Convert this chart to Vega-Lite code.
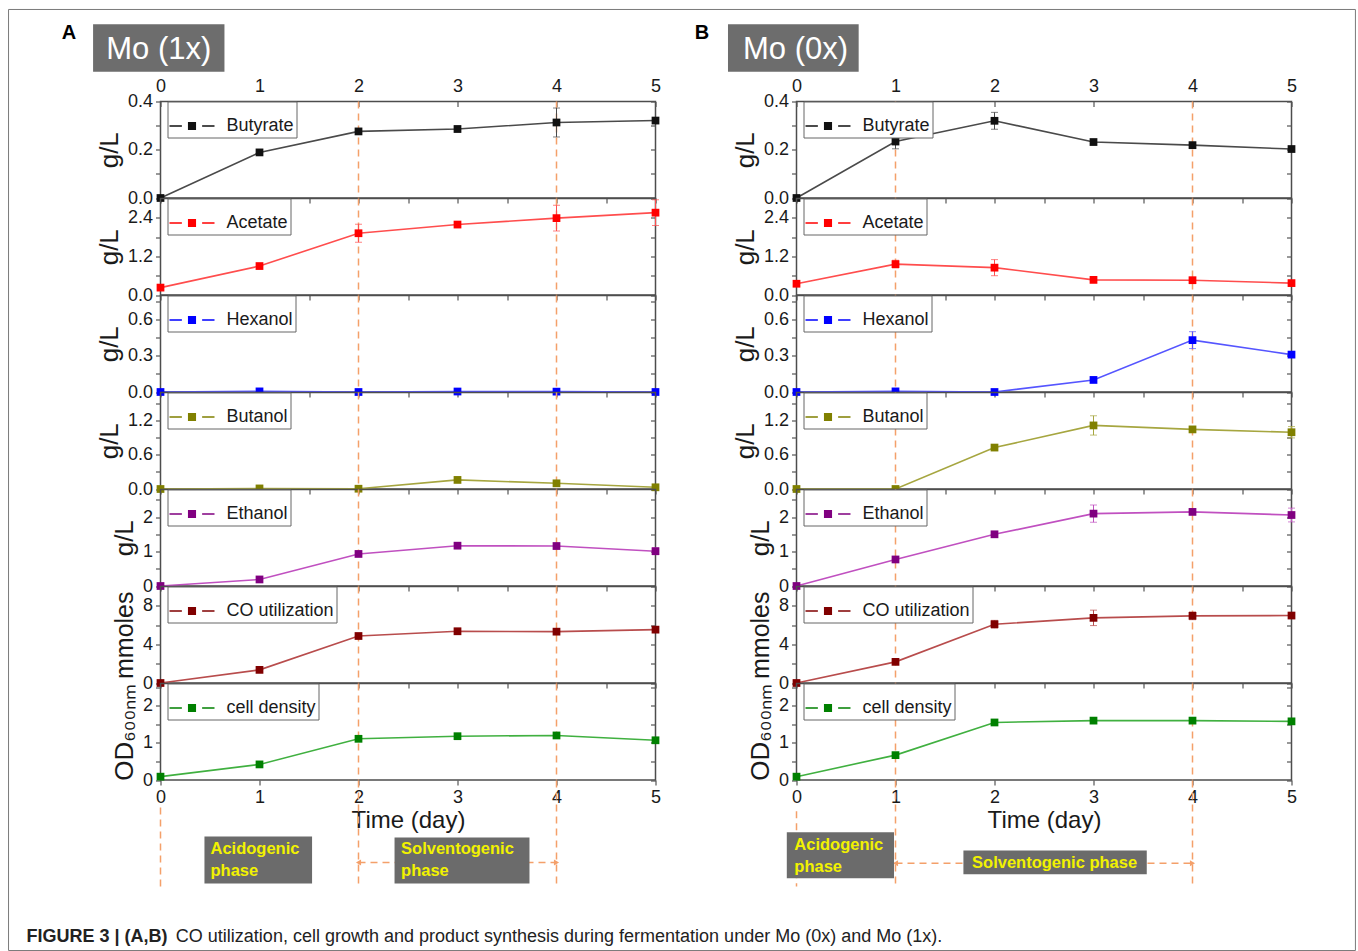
{
"$schema": "https://vega.github.io/schema/vega-lite/v6.json",
"background": "white",
"padding": {"left": 7.5, "top": 7.5, "right": 0, "bottom": 0},
"autosize": {"type": "pad"},
"columns": 2,
"spacing": {"row": 0, "column": 141},
"bounds": "flush",
"align": "each",
"resolve": {"scale": {"color": "independent"}, "legend": {"color": "independent"}},
"datasets": {
"obs": [
{"panel":"A","series":"Butyrate","day":0,"value":0,"err":0},
{"panel":"A","series":"Butyrate","day":1,"value":0.189,"err":0.008},
{"panel":"A","series":"Butyrate","day":2,"value":0.276,"err":0.012},
{"panel":"A","series":"Butyrate","day":3,"value":0.286,"err":0.012},
{"panel":"A","series":"Butyrate","day":4,"value":0.313,"err":0.06},
{"panel":"A","series":"Butyrate","day":5,"value":0.321,"err":0.008},
{"panel":"A","series":"Acetate","day":0,"value":0.23,"err":0.02},
{"panel":"A","series":"Acetate","day":1,"value":0.9,"err":0.05},
{"panel":"A","series":"Acetate","day":2,"value":1.92,"err":0.28},
{"panel":"A","series":"Acetate","day":3,"value":2.19,"err":0.06},
{"panel":"A","series":"Acetate","day":4,"value":2.39,"err":0.4},
{"panel":"A","series":"Acetate","day":5,"value":2.56,"err":0.4},
{"panel":"A","series":"Hexanol","day":0,"value":0,"err":0},
{"panel":"A","series":"Hexanol","day":1,"value":0.005,"err":0},
{"panel":"A","series":"Hexanol","day":2,"value":0,"err":0},
{"panel":"A","series":"Hexanol","day":3,"value":0.004,"err":0},
{"panel":"A","series":"Hexanol","day":4,"value":0.003,"err":0},
{"panel":"A","series":"Hexanol","day":5,"value":0,"err":0},
{"panel":"A","series":"Butanol","day":0,"value":0,"err":0},
{"panel":"A","series":"Butanol","day":1,"value":0.01,"err":0},
{"panel":"A","series":"Butanol","day":2,"value":0.005,"err":0.01},
{"panel":"A","series":"Butanol","day":3,"value":0.16,"err":0.03},
{"panel":"A","series":"Butanol","day":4,"value":0.1,"err":0.04},
{"panel":"A","series":"Butanol","day":5,"value":0.03,"err":0.02},
{"panel":"A","series":"Ethanol","day":0,"value":0,"err":0},
{"panel":"A","series":"Ethanol","day":1,"value":0.19,"err":0.05},
{"panel":"A","series":"Ethanol","day":2,"value":0.93,"err":0.06},
{"panel":"A","series":"Ethanol","day":3,"value":1.17,"err":0.08},
{"panel":"A","series":"Ethanol","day":4,"value":1.16,"err":0.08},
{"panel":"A","series":"Ethanol","day":5,"value":1.01,"err":0.1},
{"panel":"A","series":"CO utilization","day":0,"value":0,"err":0},
{"panel":"A","series":"CO utilization","day":1,"value":1.36,"err":0.15},
{"panel":"A","series":"CO utilization","day":2,"value":4.87,"err":0.2},
{"panel":"A","series":"CO utilization","day":3,"value":5.36,"err":0.3},
{"panel":"A","series":"CO utilization","day":4,"value":5.32,"err":0.25},
{"panel":"A","series":"CO utilization","day":5,"value":5.53,"err":0.3},
{"panel":"A","series":"cell density","day":0,"value":0.09,"err":0.03},
{"panel":"A","series":"cell density","day":1,"value":0.42,"err":0.04},
{"panel":"A","series":"cell density","day":2,"value":1.11,"err":0.06},
{"panel":"A","series":"cell density","day":3,"value":1.18,"err":0.04},
{"panel":"A","series":"cell density","day":4,"value":1.2,"err":0.04},
{"panel":"A","series":"cell density","day":5,"value":1.07,"err":0.06},
{"panel":"B","series":"Butyrate","day":0,"value":0,"err":0},
{"panel":"B","series":"Butyrate","day":1,"value":0.234,"err":0.03},
{"panel":"B","series":"Butyrate","day":2,"value":0.32,"err":0.035},
{"panel":"B","series":"Butyrate","day":3,"value":0.232,"err":0.008},
{"panel":"B","series":"Butyrate","day":4,"value":0.219,"err":0.012},
{"panel":"B","series":"Butyrate","day":5,"value":0.203,"err":0.008},
{"panel":"B","series":"Acetate","day":0,"value":0.35,"err":0.03},
{"panel":"B","series":"Acetate","day":1,"value":0.96,"err":0.12},
{"panel":"B","series":"Acetate","day":2,"value":0.85,"err":0.25},
{"panel":"B","series":"Acetate","day":3,"value":0.47,"err":0.05},
{"panel":"B","series":"Acetate","day":4,"value":0.46,"err":0.04},
{"panel":"B","series":"Acetate","day":5,"value":0.37,"err":0.03},
{"panel":"B","series":"Hexanol","day":0,"value":0,"err":0},
{"panel":"B","series":"Hexanol","day":1,"value":0.005,"err":0},
{"panel":"B","series":"Hexanol","day":2,"value":0,"err":0},
{"panel":"B","series":"Hexanol","day":3,"value":0.1,"err":0.02},
{"panel":"B","series":"Hexanol","day":4,"value":0.43,"err":0.07},
{"panel":"B","series":"Hexanol","day":5,"value":0.31,"err":0.02},
{"panel":"B","series":"Butanol","day":0,"value":0,"err":0},
{"panel":"B","series":"Butanol","day":1,"value":0,"err":0},
{"panel":"B","series":"Butanol","day":2,"value":0.73,"err":0.04},
{"panel":"B","series":"Butanol","day":3,"value":1.12,"err":0.17},
{"panel":"B","series":"Butanol","day":4,"value":1.05,"err":0.04},
{"panel":"B","series":"Butanol","day":5,"value":1.0,"err":0.1},
{"panel":"B","series":"Ethanol","day":0,"value":0,"err":0},
{"panel":"B","series":"Ethanol","day":1,"value":0.77,"err":0.04},
{"panel":"B","series":"Ethanol","day":2,"value":1.5,"err":0.07},
{"panel":"B","series":"Ethanol","day":3,"value":2.1,"err":0.25},
{"panel":"B","series":"Ethanol","day":4,"value":2.15,"err":0.05},
{"panel":"B","series":"Ethanol","day":5,"value":2.06,"err":0.2},
{"panel":"B","series":"CO utilization","day":0,"value":0,"err":0},
{"panel":"B","series":"CO utilization","day":1,"value":2.19,"err":0.2},
{"panel":"B","series":"CO utilization","day":2,"value":6.09,"err":0.4},
{"panel":"B","series":"CO utilization","day":3,"value":6.75,"err":0.8},
{"panel":"B","series":"CO utilization","day":4,"value":6.96,"err":0.4},
{"panel":"B","series":"CO utilization","day":5,"value":6.99,"err":0.3},
{"panel":"B","series":"cell density","day":0,"value":0.09,"err":0.03},
{"panel":"B","series":"cell density","day":1,"value":0.67,"err":0.04},
{"panel":"B","series":"cell density","day":2,"value":1.55,"err":0.07},
{"panel":"B","series":"cell density","day":3,"value":1.6,"err":0.05},
{"panel":"B","series":"cell density","day":4,"value":1.6,"err":0.05},
{"panel":"B","series":"cell density","day":5,"value":1.58,"err":0.04}
],
"lines": [
{"panel":"A","day":2,"span":"all"},
{"panel":"A","day":4,"span":"all"},
{"panel":"A","day":0,"span":"below"},
{"panel":"B","day":1,"span":"all"},
{"panel":"B","day":4,"span":"all"},
{"panel":"B","day":0,"span":"below"}
],
"phases": [
{"panel":"A","phase":"Acidogenic","label":"Acidogenic phase","start":0,"end":2},
{"panel":"A","phase":"Solventogenic","label":"Solventogenic phase","start":2,"end":4},
{"panel":"B","phase":"Acidogenic","label":"Acidogenic phase","start":0,"end":1},
{"panel":"B","phase":"Solventogenic","label":"Solventogenic phase","start":1,"end":4}
],
"panels": [
{"panel":"A","letter":"A","condition":"Mo (1x)"},
{"panel":"B","letter":"B","condition":"Mo (0x)"}
],
"caption": [
{"bold":"FIGURE 3 | (A,B)","rest":"CO utilization, cell growth and product synthesis during fermentation under Mo (0x) and Mo (1x)."}
]
},
"concat": [
{"width":495,"height":93.5,"view":{"stroke":null},"data":{"name":"panels"},"transform":[{"filter":"datum.panel=='A'"}],"layer":[
{"mark":{"type":"rect","color":"#6d6d6d"},"encoding":{"x":{"datum":-0.681,"type":"quantitative","scale":{"domain":[0,5],"nice":false},"axis":null},"x2":{"datum":0.646},"y":{"datum":0.179,"type":"quantitative","scale":{"domain":[0,1],"nice":false,"reverse":true},"axis":null},"y2":{"datum":0.688}}},
{"mark":{"type":"text","color":"white","fontSize":31,"align":"center","baseline":"middle"},"encoding":{"x":{"datum":-0.017,"type":"quantitative","axis":null},"y":{"datum":0.45,"type":"quantitative","axis":null},"text":{"field":"condition"}}},
{"mark":{"type":"text","color":"black","fontSize":20,"fontWeight":"bold","align":"center","baseline":"middle"},"encoding":{"x":{"datum":-0.924,"type":"quantitative","axis":null},"y":{"datum":0.273,"type":"quantitative","axis":null},"text":{"field":"letter"}}}
]},
{"width":495,"height":93.5,"view":{"stroke":null},"data":{"name":"panels"},"transform":[{"filter":"datum.panel=='B'"}],"layer":[
{"mark":{"type":"rect","color":"#6d6d6d"},"encoding":{"x":{"datum":-0.692,"type":"quantitative","scale":{"domain":[0,5],"nice":false},"axis":null},"x2":{"datum":0.628},"y":{"datum":0.179,"type":"quantitative","scale":{"domain":[0,1],"nice":false,"reverse":true},"axis":null},"y2":{"datum":0.688}}},
{"mark":{"type":"text","color":"white","fontSize":31,"align":"center","baseline":"middle"},"encoding":{"x":{"datum":-0.01,"type":"quantitative","axis":null},"y":{"datum":0.45,"type":"quantitative","axis":null},"text":{"field":"condition"}}},
{"mark":{"type":"text","color":"black","fontSize":20,"fontWeight":"bold","align":"center","baseline":"middle"},"encoding":{"x":{"datum":-0.956,"type":"quantitative","axis":null},"y":{"datum":0.273,"type":"quantitative","axis":null},"text":{"field":"letter"}}}
]},

{"width":495,"height":96.5,"data":{"name":"obs"},"transform":[{"filter":"datum.panel=='A' && datum.series=='Butyrate'"}],"layer":[
{"data":{"name":"lines"},"transform":[{"filter":"datum.panel=='A' && datum.span=='all'"}],"mark":{"type":"rule","color":"#f4a06a","strokeDash":[7,5],"strokeWidth":1.5},"encoding":{"x":{"field":"day","type":"quantitative","scale":{"domain":[0,5],"nice":false},"axis":null}}},
{"mark":{"type":"line","color":"#4a4a4a","strokeWidth":1.6},"encoding":{"x":{"field":"day","type":"quantitative","axis":{"orient":"top","values":[0,0.5,1,1.5,2,2.5,3,3.5,4,4.5,5],"format":"d","labelFlush":false,"labelExpr":"datum.value % 1 == 0 ? datum.label : ''","offset":-5,"labelPadding":6,"title":null}},"y":{"field":"value","type":"quantitative","scale":{"domain":[0,0.4],"nice":false},"axis":{"orient":"left","values":[0,0.1,0.2,0.3,0.4],"format":".1f","labelExpr":"round(datum.value*10)%2==0 ? datum.label : ''","title":"g/L"}}}},
{"mark":{"type":"errorbar","color":"#4a4a4a","ticks":{"size":7}},"encoding":{"x":{"field":"day","type":"quantitative","axis":null},"y":{"field":"value","type":"quantitative","axis":null},"yError":{"field":"err"}}},
{"mark":{"type":"square","size":60,"opacity":1},"encoding":{"x":{"field":"day","type":"quantitative","axis":{"orient":"bottom","values":[0,0.5,1,1.5,2,2.5,3,3.5,4,4.5,5],"labels":false,"title":null}},"y":{"field":"value","type":"quantitative","axis":{"orient":"right","values":[0,0.1,0.2,0.3,0.4],"labels":false,"offset":-5,"title":null}},"color":{"field":"series","type":"nominal","scale":{"range":["#111111"]},"legend":{"orient":"none","legendX":7,"legendY":0,"title":null}}}}
],"resolve":{"axis":{"x":"independent","y":"independent"}}},

{"width":495,"height":96.5,"data":{"name":"obs"},"transform":[{"filter":"datum.panel=='B' && datum.series=='Butyrate'"}],"layer":[
{"data":{"name":"lines"},"transform":[{"filter":"datum.panel=='B' && datum.span=='all'"}],"mark":{"type":"rule","color":"#f4a06a","strokeDash":[7,5],"strokeWidth":1.5},"encoding":{"x":{"field":"day","type":"quantitative","scale":{"domain":[0,5],"nice":false},"axis":null}}},
{"mark":{"type":"line","color":"#4a4a4a","strokeWidth":1.6},"encoding":{"x":{"field":"day","type":"quantitative","axis":{"orient":"top","values":[0,0.5,1,1.5,2,2.5,3,3.5,4,4.5,5],"format":"d","labelFlush":false,"labelExpr":"datum.value % 1 == 0 ? datum.label : ''","offset":-5,"labelPadding":6,"title":null}},"y":{"field":"value","type":"quantitative","scale":{"domain":[0,0.4],"nice":false},"axis":{"orient":"left","values":[0,0.1,0.2,0.3,0.4],"format":".1f","labelExpr":"round(datum.value*10)%2==0 ? datum.label : ''","title":"g/L"}}}},
{"mark":{"type":"errorbar","color":"#4a4a4a","ticks":{"size":7}},"encoding":{"x":{"field":"day","type":"quantitative","axis":null},"y":{"field":"value","type":"quantitative","axis":null},"yError":{"field":"err"}}},
{"mark":{"type":"square","size":60,"opacity":1},"encoding":{"x":{"field":"day","type":"quantitative","axis":{"orient":"bottom","values":[0,0.5,1,1.5,2,2.5,3,3.5,4,4.5,5],"labels":false,"title":null}},"y":{"field":"value","type":"quantitative","axis":{"orient":"right","values":[0,0.1,0.2,0.3,0.4],"labels":false,"offset":-5,"title":null}},"color":{"field":"series","type":"nominal","scale":{"range":["#111111"]},"legend":{"orient":"none","legendX":7,"legendY":0,"title":null}}}}
],"resolve":{"axis":{"x":"independent","y":"independent"}}},

{"width":495,"height":96.5,"data":{"name":"obs"},"transform":[{"filter":"datum.panel=='A' && datum.series=='Acetate'"}],"layer":[
{"data":{"name":"lines"},"transform":[{"filter":"datum.panel=='A' && datum.span=='all'"}],"mark":{"type":"rule","color":"#f4a06a","strokeDash":[7,5],"strokeWidth":1.5},"encoding":{"x":{"field":"day","type":"quantitative","scale":{"domain":[0,5],"nice":false},"axis":null}}},
{"mark":{"type":"line","color":"#ff4d4d","strokeWidth":1.6},"encoding":{"x":{"field":"day","type":"quantitative","axis":null},"y":{"field":"value","type":"quantitative","scale":{"domain":[0,3],"nice":false},"axis":{"orient":"left","values":[0,0.6,1.2,1.8,2.4],"format":".1f","labelExpr":"round(datum.value*10)%12==0 ? datum.label : ''","title":"g/L"}}}},
{"mark":{"type":"errorbar","color":"#ff4d4d","ticks":{"size":7}},"encoding":{"x":{"field":"day","type":"quantitative","axis":null},"y":{"field":"value","type":"quantitative","axis":null},"yError":{"field":"err"}}},
{"mark":{"type":"square","size":60,"opacity":1},"encoding":{"x":{"field":"day","type":"quantitative","axis":{"orient":"bottom","values":[0,0.5,1,1.5,2,2.5,3,3.5,4,4.5,5],"labels":false,"title":null}},"y":{"field":"value","type":"quantitative","axis":{"orient":"right","values":[0,0.6,1.2,1.8,2.4],"labels":false,"offset":-5,"title":null}},"color":{"field":"series","type":"nominal","scale":{"range":["#ff0000"]},"legend":{"orient":"none","legendX":7,"legendY":0,"title":null}}}}
],"resolve":{"axis":{"x":"independent","y":"independent"}}},

{"width":495,"height":96.5,"data":{"name":"obs"},"transform":[{"filter":"datum.panel=='B' && datum.series=='Acetate'"}],"layer":[
{"data":{"name":"lines"},"transform":[{"filter":"datum.panel=='B' && datum.span=='all'"}],"mark":{"type":"rule","color":"#f4a06a","strokeDash":[7,5],"strokeWidth":1.5},"encoding":{"x":{"field":"day","type":"quantitative","scale":{"domain":[0,5],"nice":false},"axis":null}}},
{"mark":{"type":"line","color":"#ff4d4d","strokeWidth":1.6},"encoding":{"x":{"field":"day","type":"quantitative","axis":null},"y":{"field":"value","type":"quantitative","scale":{"domain":[0,3],"nice":false},"axis":{"orient":"left","values":[0,0.6,1.2,1.8,2.4],"format":".1f","labelExpr":"round(datum.value*10)%12==0 ? datum.label : ''","title":"g/L"}}}},
{"mark":{"type":"errorbar","color":"#ff4d4d","ticks":{"size":7}},"encoding":{"x":{"field":"day","type":"quantitative","axis":null},"y":{"field":"value","type":"quantitative","axis":null},"yError":{"field":"err"}}},
{"mark":{"type":"square","size":60,"opacity":1},"encoding":{"x":{"field":"day","type":"quantitative","axis":{"orient":"bottom","values":[0,0.5,1,1.5,2,2.5,3,3.5,4,4.5,5],"labels":false,"title":null}},"y":{"field":"value","type":"quantitative","axis":{"orient":"right","values":[0,0.6,1.2,1.8,2.4],"labels":false,"offset":-5,"title":null}},"color":{"field":"series","type":"nominal","scale":{"range":["#ff0000"]},"legend":{"orient":"none","legendX":7,"legendY":0,"title":null}}}}
],"resolve":{"axis":{"x":"independent","y":"independent"}}},

{"width":495,"height":96.5,"data":{"name":"obs"},"transform":[{"filter":"datum.panel=='A' && datum.series=='Hexanol'"}],"layer":[
{"data":{"name":"lines"},"transform":[{"filter":"datum.panel=='A' && datum.span=='all'"}],"mark":{"type":"rule","color":"#f4a06a","strokeDash":[7,5],"strokeWidth":1.5},"encoding":{"x":{"field":"day","type":"quantitative","scale":{"domain":[0,5],"nice":false},"axis":null}}},
{"mark":{"type":"line","color":"#5555ff","strokeWidth":1.6},"encoding":{"x":{"field":"day","type":"quantitative","axis":null},"y":{"field":"value","type":"quantitative","scale":{"domain":[0,0.8],"nice":false},"axis":{"orient":"left","values":[0,0.15,0.3,0.45,0.6,0.75],"format":".1f","labelExpr":"round(datum.value*100)%30==0 ? datum.label : ''","title":"g/L"}}}},
{"mark":{"type":"errorbar","color":"#5555ff","ticks":{"size":7}},"encoding":{"x":{"field":"day","type":"quantitative","axis":null},"y":{"field":"value","type":"quantitative","axis":null},"yError":{"field":"err"}}},
{"mark":{"type":"square","size":60,"opacity":1},"encoding":{"x":{"field":"day","type":"quantitative","axis":{"orient":"bottom","values":[0,0.5,1,1.5,2,2.5,3,3.5,4,4.5,5],"labels":false,"title":null}},"y":{"field":"value","type":"quantitative","axis":{"orient":"right","values":[0,0.15,0.3,0.45,0.6,0.75],"labels":false,"offset":-5,"title":null}},"color":{"field":"series","type":"nominal","scale":{"range":["#0000ff"]},"legend":{"orient":"none","legendX":7,"legendY":0,"title":null}}}}
],"resolve":{"axis":{"x":"independent","y":"independent"}}},

{"width":495,"height":96.5,"data":{"name":"obs"},"transform":[{"filter":"datum.panel=='B' && datum.series=='Hexanol'"}],"layer":[
{"data":{"name":"lines"},"transform":[{"filter":"datum.panel=='B' && datum.span=='all'"}],"mark":{"type":"rule","color":"#f4a06a","strokeDash":[7,5],"strokeWidth":1.5},"encoding":{"x":{"field":"day","type":"quantitative","scale":{"domain":[0,5],"nice":false},"axis":null}}},
{"mark":{"type":"line","color":"#5555ff","strokeWidth":1.6},"encoding":{"x":{"field":"day","type":"quantitative","axis":null},"y":{"field":"value","type":"quantitative","scale":{"domain":[0,0.8],"nice":false},"axis":{"orient":"left","values":[0,0.15,0.3,0.45,0.6,0.75],"format":".1f","labelExpr":"round(datum.value*100)%30==0 ? datum.label : ''","title":"g/L"}}}},
{"mark":{"type":"errorbar","color":"#5555ff","ticks":{"size":7}},"encoding":{"x":{"field":"day","type":"quantitative","axis":null},"y":{"field":"value","type":"quantitative","axis":null},"yError":{"field":"err"}}},
{"mark":{"type":"square","size":60,"opacity":1},"encoding":{"x":{"field":"day","type":"quantitative","axis":{"orient":"bottom","values":[0,0.5,1,1.5,2,2.5,3,3.5,4,4.5,5],"labels":false,"title":null}},"y":{"field":"value","type":"quantitative","axis":{"orient":"right","values":[0,0.15,0.3,0.45,0.6,0.75],"labels":false,"offset":-5,"title":null}},"color":{"field":"series","type":"nominal","scale":{"range":["#0000ff"]},"legend":{"orient":"none","legendX":7,"legendY":0,"title":null}}}}
],"resolve":{"axis":{"x":"independent","y":"independent"}}},

{"width":495,"height":96.5,"data":{"name":"obs"},"transform":[{"filter":"datum.panel=='A' && datum.series=='Butanol'"}],"layer":[
{"data":{"name":"lines"},"transform":[{"filter":"datum.panel=='A' && datum.span=='all'"}],"mark":{"type":"rule","color":"#f4a06a","strokeDash":[7,5],"strokeWidth":1.5},"encoding":{"x":{"field":"day","type":"quantitative","scale":{"domain":[0,5],"nice":false},"axis":null}}},
{"mark":{"type":"line","color":"#a6a640","strokeWidth":1.6},"encoding":{"x":{"field":"day","type":"quantitative","axis":null},"y":{"field":"value","type":"quantitative","scale":{"domain":[0,1.7],"nice":false},"axis":{"orient":"left","values":[0,0.3,0.6,0.9,1.2,1.5],"format":".1f","labelExpr":"round(datum.value*10)%6==0 ? datum.label : ''","title":"g/L"}}}},
{"mark":{"type":"errorbar","color":"#a6a640","ticks":{"size":7}},"encoding":{"x":{"field":"day","type":"quantitative","axis":null},"y":{"field":"value","type":"quantitative","axis":null},"yError":{"field":"err"}}},
{"mark":{"type":"square","size":60,"opacity":1},"encoding":{"x":{"field":"day","type":"quantitative","axis":{"orient":"bottom","values":[0,0.5,1,1.5,2,2.5,3,3.5,4,4.5,5],"labels":false,"title":null}},"y":{"field":"value","type":"quantitative","axis":{"orient":"right","values":[0,0.3,0.6,0.9,1.2,1.5],"labels":false,"offset":-5,"title":null}},"color":{"field":"series","type":"nominal","scale":{"range":["#808000"]},"legend":{"orient":"none","legendX":7,"legendY":0,"title":null}}}}
],"resolve":{"axis":{"x":"independent","y":"independent"}}},

{"width":495,"height":96.5,"data":{"name":"obs"},"transform":[{"filter":"datum.panel=='B' && datum.series=='Butanol'"}],"layer":[
{"data":{"name":"lines"},"transform":[{"filter":"datum.panel=='B' && datum.span=='all'"}],"mark":{"type":"rule","color":"#f4a06a","strokeDash":[7,5],"strokeWidth":1.5},"encoding":{"x":{"field":"day","type":"quantitative","scale":{"domain":[0,5],"nice":false},"axis":null}}},
{"mark":{"type":"line","color":"#a6a640","strokeWidth":1.6},"encoding":{"x":{"field":"day","type":"quantitative","axis":null},"y":{"field":"value","type":"quantitative","scale":{"domain":[0,1.7],"nice":false},"axis":{"orient":"left","values":[0,0.3,0.6,0.9,1.2,1.5],"format":".1f","labelExpr":"round(datum.value*10)%6==0 ? datum.label : ''","title":"g/L"}}}},
{"mark":{"type":"errorbar","color":"#a6a640","ticks":{"size":7}},"encoding":{"x":{"field":"day","type":"quantitative","axis":null},"y":{"field":"value","type":"quantitative","axis":null},"yError":{"field":"err"}}},
{"mark":{"type":"square","size":60,"opacity":1},"encoding":{"x":{"field":"day","type":"quantitative","axis":{"orient":"bottom","values":[0,0.5,1,1.5,2,2.5,3,3.5,4,4.5,5],"labels":false,"title":null}},"y":{"field":"value","type":"quantitative","axis":{"orient":"right","values":[0,0.3,0.6,0.9,1.2,1.5],"labels":false,"offset":-5,"title":null}},"color":{"field":"series","type":"nominal","scale":{"range":["#808000"]},"legend":{"orient":"none","legendX":7,"legendY":0,"title":null}}}}
],"resolve":{"axis":{"x":"independent","y":"independent"}}},

{"width":495,"height":96.5,"data":{"name":"obs"},"transform":[{"filter":"datum.panel=='A' && datum.series=='Ethanol'"}],"layer":[
{"data":{"name":"lines"},"transform":[{"filter":"datum.panel=='A' && datum.span=='all'"}],"mark":{"type":"rule","color":"#f4a06a","strokeDash":[7,5],"strokeWidth":1.5},"encoding":{"x":{"field":"day","type":"quantitative","scale":{"domain":[0,5],"nice":false},"axis":null}}},
{"mark":{"type":"line","color":"#c050c0","strokeWidth":1.6},"encoding":{"x":{"field":"day","type":"quantitative","axis":null},"y":{"field":"value","type":"quantitative","scale":{"domain":[0,2.8],"nice":false},"axis":{"orient":"left","values":[0,0.5,1,1.5,2,2.5],"format":"~g","labelExpr":"round(datum.value*10)%10==0 ? datum.label : ''","title":"g/L"}}}},
{"mark":{"type":"errorbar","color":"#c050c0","ticks":{"size":7}},"encoding":{"x":{"field":"day","type":"quantitative","axis":null},"y":{"field":"value","type":"quantitative","axis":null},"yError":{"field":"err"}}},
{"mark":{"type":"square","size":60,"opacity":1},"encoding":{"x":{"field":"day","type":"quantitative","axis":{"orient":"bottom","values":[0,0.5,1,1.5,2,2.5,3,3.5,4,4.5,5],"labels":false,"title":null}},"y":{"field":"value","type":"quantitative","axis":{"orient":"right","values":[0,0.5,1,1.5,2,2.5],"labels":false,"offset":-5,"title":null}},"color":{"field":"series","type":"nominal","scale":{"range":["#800080"]},"legend":{"orient":"none","legendX":7,"legendY":0,"title":null}}}}
],"resolve":{"axis":{"x":"independent","y":"independent"}}},

{"width":495,"height":96.5,"data":{"name":"obs"},"transform":[{"filter":"datum.panel=='B' && datum.series=='Ethanol'"}],"layer":[
{"data":{"name":"lines"},"transform":[{"filter":"datum.panel=='B' && datum.span=='all'"}],"mark":{"type":"rule","color":"#f4a06a","strokeDash":[7,5],"strokeWidth":1.5},"encoding":{"x":{"field":"day","type":"quantitative","scale":{"domain":[0,5],"nice":false},"axis":null}}},
{"mark":{"type":"line","color":"#c050c0","strokeWidth":1.6},"encoding":{"x":{"field":"day","type":"quantitative","axis":null},"y":{"field":"value","type":"quantitative","scale":{"domain":[0,2.8],"nice":false},"axis":{"orient":"left","values":[0,0.5,1,1.5,2,2.5],"format":"~g","labelExpr":"round(datum.value*10)%10==0 ? datum.label : ''","title":"g/L"}}}},
{"mark":{"type":"errorbar","color":"#c050c0","ticks":{"size":7}},"encoding":{"x":{"field":"day","type":"quantitative","axis":null},"y":{"field":"value","type":"quantitative","axis":null},"yError":{"field":"err"}}},
{"mark":{"type":"square","size":60,"opacity":1},"encoding":{"x":{"field":"day","type":"quantitative","axis":{"orient":"bottom","values":[0,0.5,1,1.5,2,2.5,3,3.5,4,4.5,5],"labels":false,"title":null}},"y":{"field":"value","type":"quantitative","axis":{"orient":"right","values":[0,0.5,1,1.5,2,2.5],"labels":false,"offset":-5,"title":null}},"color":{"field":"series","type":"nominal","scale":{"range":["#800080"]},"legend":{"orient":"none","legendX":7,"legendY":0,"title":null}}}}
],"resolve":{"axis":{"x":"independent","y":"independent"}}},

{"width":495,"height":96.5,"data":{"name":"obs"},"transform":[{"filter":"datum.panel=='A' && datum.series=='CO utilization'"}],"layer":[
{"data":{"name":"lines"},"transform":[{"filter":"datum.panel=='A' && datum.span=='all'"}],"mark":{"type":"rule","color":"#f4a06a","strokeDash":[7,5],"strokeWidth":1.5},"encoding":{"x":{"field":"day","type":"quantitative","scale":{"domain":[0,5],"nice":false},"axis":null}}},
{"mark":{"type":"line","color":"#b84c4c","strokeWidth":1.6},"encoding":{"x":{"field":"day","type":"quantitative","axis":null},"y":{"field":"value","type":"quantitative","scale":{"domain":[0,10],"nice":false},"axis":{"orient":"left","values":[0,2,4,6,8],"format":"~g","labelExpr":"round(datum.value)%4==0 ? datum.label : ''","title":"mmoles","titleFontSize":25}}}},
{"mark":{"type":"errorbar","color":"#b84c4c","ticks":{"size":7}},"encoding":{"x":{"field":"day","type":"quantitative","axis":null},"y":{"field":"value","type":"quantitative","axis":null},"yError":{"field":"err"}}},
{"mark":{"type":"square","size":60,"opacity":1},"encoding":{"x":{"field":"day","type":"quantitative","axis":{"orient":"bottom","values":[0,0.5,1,1.5,2,2.5,3,3.5,4,4.5,5],"labels":false,"title":null}},"y":{"field":"value","type":"quantitative","axis":{"orient":"right","values":[0,2,4,6,8],"labels":false,"offset":-5,"title":null}},"color":{"field":"series","type":"nominal","scale":{"range":["#800000"]},"legend":{"orient":"none","legendX":7,"legendY":0,"title":null}}}}
],"resolve":{"axis":{"x":"independent","y":"independent"}}},

{"width":495,"height":96.5,"data":{"name":"obs"},"transform":[{"filter":"datum.panel=='B' && datum.series=='CO utilization'"}],"layer":[
{"data":{"name":"lines"},"transform":[{"filter":"datum.panel=='B' && datum.span=='all'"}],"mark":{"type":"rule","color":"#f4a06a","strokeDash":[7,5],"strokeWidth":1.5},"encoding":{"x":{"field":"day","type":"quantitative","scale":{"domain":[0,5],"nice":false},"axis":null}}},
{"mark":{"type":"line","color":"#b84c4c","strokeWidth":1.6},"encoding":{"x":{"field":"day","type":"quantitative","axis":null},"y":{"field":"value","type":"quantitative","scale":{"domain":[0,10],"nice":false},"axis":{"orient":"left","values":[0,2,4,6,8],"format":"~g","labelExpr":"round(datum.value)%4==0 ? datum.label : ''","title":"mmoles","titleFontSize":25}}}},
{"mark":{"type":"errorbar","color":"#b84c4c","ticks":{"size":7}},"encoding":{"x":{"field":"day","type":"quantitative","axis":null},"y":{"field":"value","type":"quantitative","axis":null},"yError":{"field":"err"}}},
{"mark":{"type":"square","size":60,"opacity":1},"encoding":{"x":{"field":"day","type":"quantitative","axis":{"orient":"bottom","values":[0,0.5,1,1.5,2,2.5,3,3.5,4,4.5,5],"labels":false,"title":null}},"y":{"field":"value","type":"quantitative","axis":{"orient":"right","values":[0,2,4,6,8],"labels":false,"offset":-5,"title":null}},"color":{"field":"series","type":"nominal","scale":{"range":["#800000"]},"legend":{"orient":"none","legendX":7,"legendY":0,"title":null}}}}
],"resolve":{"axis":{"x":"independent","y":"independent"}}},

{"width":495,"height":96.5,"data":{"name":"obs"},"transform":[{"filter":"datum.panel=='A' && datum.series=='cell density'"}],"layer":[
{"data":{"name":"lines"},"transform":[{"filter":"datum.panel=='A' && datum.span=='all'"}],"mark":{"type":"rule","color":"#f4a06a","strokeDash":[7,5],"strokeWidth":1.5},"encoding":{"x":{"field":"day","type":"quantitative","scale":{"domain":[0,5],"nice":false},"axis":null}}},
{"mark":{"type":"line","color":"#40b040","strokeWidth":1.6},"encoding":{"x":{"field":"day","type":"quantitative","axis":null},"y":{"field":"value","type":"quantitative","scale":{"domain":[0,2.6],"nice":false},"axis":{"orient":"left","values":[0,0.5,1,1.5,2,2.5],"format":"~g","labelExpr":"round(datum.value*10)%10==0 ? datum.label : ''","title":"OD₆₀₀ₙₘ"}}}},
{"mark":{"type":"errorbar","color":"#40b040","ticks":{"size":7}},"encoding":{"x":{"field":"day","type":"quantitative","axis":null},"y":{"field":"value","type":"quantitative","axis":null},"yError":{"field":"err"}}},
{"mark":{"type":"square","size":60,"opacity":1},"encoding":{"x":{"field":"day","type":"quantitative","axis":{"orient":"bottom","values":[0,0.5,1,1.5,2,2.5,3,3.5,4,4.5,5],"format":"d","labelFlush":false,"labelExpr":"datum.value % 1 == 0 ? datum.label : ''","title":"Time (day)","titleFontSize":24,"titlePadding":2}},"y":{"field":"value","type":"quantitative","axis":{"orient":"right","values":[0,0.5,1,1.5,2,2.5],"labels":false,"offset":-5,"title":null}},"color":{"field":"series","type":"nominal","scale":{"range":["#008000"]},"legend":{"orient":"none","legendX":7,"legendY":0,"title":null}}}}
],"resolve":{"axis":{"x":"independent","y":"independent"}}},

{"width":495,"height":96.5,"data":{"name":"obs"},"transform":[{"filter":"datum.panel=='B' && datum.series=='cell density'"}],"layer":[
{"data":{"name":"lines"},"transform":[{"filter":"datum.panel=='B' && datum.span=='all'"}],"mark":{"type":"rule","color":"#f4a06a","strokeDash":[7,5],"strokeWidth":1.5},"encoding":{"x":{"field":"day","type":"quantitative","scale":{"domain":[0,5],"nice":false},"axis":null}}},
{"mark":{"type":"line","color":"#40b040","strokeWidth":1.6},"encoding":{"x":{"field":"day","type":"quantitative","axis":null},"y":{"field":"value","type":"quantitative","scale":{"domain":[0,2.6],"nice":false},"axis":{"orient":"left","values":[0,0.5,1,1.5,2,2.5],"format":"~g","labelExpr":"round(datum.value*10)%10==0 ? datum.label : ''","title":"OD₆₀₀ₙₘ"}}}},
{"mark":{"type":"errorbar","color":"#40b040","ticks":{"size":7}},"encoding":{"x":{"field":"day","type":"quantitative","axis":null},"y":{"field":"value","type":"quantitative","axis":null},"yError":{"field":"err"}}},
{"mark":{"type":"square","size":60,"opacity":1},"encoding":{"x":{"field":"day","type":"quantitative","axis":{"orient":"bottom","values":[0,0.5,1,1.5,2,2.5,3,3.5,4,4.5,5],"format":"d","labelFlush":false,"labelExpr":"datum.value % 1 == 0 ? datum.label : ''","title":"Time (day)","titleFontSize":24,"titlePadding":2}},"y":{"field":"value","type":"quantitative","axis":{"orient":"right","values":[0,0.5,1,1.5,2,2.5],"labels":false,"offset":-5,"title":null}},"color":{"field":"series","type":"nominal","scale":{"range":["#008000"]},"legend":{"orient":"none","legendX":7,"legendY":0,"title":null}}}}
],"resolve":{"axis":{"x":"independent","y":"independent"}}},

{"width":495,"height":106,"view":{"stroke":null},"layer":[
{"data":{"name":"lines"},"transform":[{"filter":"datum.panel=='A' && datum.span=='all'"}],"mark":{"type":"rule","color":"#f4a06a","strokeDash":[7,5],"strokeWidth":1.5},"encoding":{"x":{"field":"day","type":"quantitative","scale":{"domain":[0,5],"nice":false},"axis":null}}},
{"data":{"name":"lines"},"transform":[{"filter":"datum.panel=='A' && datum.span=='below'"}],"mark":{"type":"rule","color":"#f4a06a","strokeDash":[7,5],"strokeWidth":1.5},"encoding":{"x":{"field":"day","type":"quantitative","axis":null},"y":{"datum":0.255,"type":"quantitative","scale":{"domain":[0,1],"nice":false,"reverse":true},"axis":null},"y2":{"datum":1}}},
{"data":{"name":"phases"},"transform":[{"filter":"datum.panel=='A' && datum.phase=='Solventogenic'"}],"mark":{"type":"rule","color":"#f4a06a","strokeDash":[7,5],"strokeWidth":1.5},"encoding":{"x":{"field":"start","type":"quantitative","axis":null},"x2":{"field":"end"},"y":{"datum":0.774,"type":"quantitative","axis":null}}},
{"data":{"name":"phases"},"transform":[{"filter":"datum.panel=='A' && datum.phase=='Solventogenic'"}],"mark":{"type":"point","shape":"triangle-left","filled":true,"size":35,"color":"#f4a06a","opacity":1},"encoding":{"x":{"field":"start","type":"quantitative","axis":null},"y":{"datum":0.774,"type":"quantitative","axis":null}}},
{"data":{"name":"phases"},"transform":[{"filter":"datum.panel=='A' && datum.phase=='Solventogenic'"}],"mark":{"type":"point","shape":"triangle-right","filled":true,"size":35,"color":"#f4a06a","opacity":1},"encoding":{"x":{"field":"end","type":"quantitative","axis":null},"y":{"datum":0.774,"type":"quantitative","axis":null}}},
{"data":{"name":"phases"},"transform":[{"filter":"datum.panel=='A' && datum.phase=='Acidogenic'"}],"mark":{"type":"rect","color":"#6b6b6b"},"encoding":{"x":{"datum":0.444,"type":"quantitative","axis":null},"x2":{"datum":1.531},"y":{"datum":0.528,"type":"quantitative","axis":null},"y2":{"datum":0.972}}},
{"data":{"name":"phases"},"transform":[{"filter":"datum.panel=='A' && datum.phase=='Acidogenic'"}],"mark":{"type":"text","color":"#f2f200","fontSize":16.5,"fontWeight":"bold","align":"left","baseline":"middle","lineBreak":" ","lineHeight":22},"encoding":{"x":{"datum":0.505,"type":"quantitative","axis":null},"y":{"datum":0.642,"type":"quantitative","axis":null},"text":{"field":"label"}}},
{"data":{"name":"phases"},"transform":[{"filter":"datum.panel=='A' && datum.phase=='Solventogenic'"}],"mark":{"type":"rect","color":"#6b6b6b"},"encoding":{"x":{"datum":2.364,"type":"quantitative","axis":null},"x2":{"datum":3.727},"y":{"datum":0.538,"type":"quantitative","axis":null},"y2":{"datum":0.972}}},
{"data":{"name":"phases"},"transform":[{"filter":"datum.panel=='A' && datum.phase=='Solventogenic'"}],"mark":{"type":"text","color":"#f2f200","fontSize":16.5,"fontWeight":"bold","align":"left","baseline":"middle","lineBreak":" ","lineHeight":22},"encoding":{"x":{"datum":2.43,"type":"quantitative","axis":null},"y":{"datum":0.648,"type":"quantitative","axis":null},"text":{"field":"label"}}}
]},

{"width":495,"height":106,"view":{"stroke":null},"layer":[
{"data":{"name":"lines"},"transform":[{"filter":"datum.panel=='B' && datum.span=='all'"}],"mark":{"type":"rule","color":"#f4a06a","strokeDash":[7,5],"strokeWidth":1.5},"encoding":{"x":{"field":"day","type":"quantitative","scale":{"domain":[0,5],"nice":false},"axis":null}}},
{"data":{"name":"lines"},"transform":[{"filter":"datum.panel=='B' && datum.span=='below'"}],"mark":{"type":"rule","color":"#f4a06a","strokeDash":[7,5],"strokeWidth":1.5},"encoding":{"x":{"field":"day","type":"quantitative","axis":null},"y":{"datum":0.29,"type":"quantitative","scale":{"domain":[0,1],"nice":false,"reverse":true},"axis":null},"y2":{"datum":1}}},
{"data":{"name":"phases"},"transform":[{"filter":"datum.panel=='B' && datum.phase=='Solventogenic'"}],"mark":{"type":"rule","color":"#f4a06a","strokeDash":[7,5],"strokeWidth":1.5},"encoding":{"x":{"field":"start","type":"quantitative","axis":null},"x2":{"field":"end"},"y":{"datum":0.78,"type":"quantitative","axis":null}}},
{"data":{"name":"phases"},"transform":[{"filter":"datum.panel=='B' && datum.phase=='Solventogenic'"}],"mark":{"type":"point","shape":"triangle-left","filled":true,"size":35,"color":"#f4a06a","opacity":1},"encoding":{"x":{"field":"start","type":"quantitative","axis":null},"y":{"datum":0.78,"type":"quantitative","axis":null}}},
{"data":{"name":"phases"},"transform":[{"filter":"datum.panel=='B' && datum.phase=='Solventogenic'"}],"mark":{"type":"point","shape":"triangle-right","filled":true,"size":35,"color":"#f4a06a","opacity":1},"encoding":{"x":{"field":"end","type":"quantitative","axis":null},"y":{"datum":0.78,"type":"quantitative","axis":null}}},
{"data":{"name":"phases"},"transform":[{"filter":"datum.panel=='B' && datum.phase=='Acidogenic'"}],"mark":{"type":"rect","color":"#6b6b6b"},"encoding":{"x":{"datum":-0.098,"type":"quantitative","axis":null},"x2":{"datum":0.985},"y":{"datum":0.488,"type":"quantitative","axis":null},"y2":{"datum":0.922}}},
{"data":{"name":"phases"},"transform":[{"filter":"datum.panel=='B' && datum.phase=='Acidogenic'"}],"mark":{"type":"text","color":"#f2f200","fontSize":16.5,"fontWeight":"bold","align":"left","baseline":"middle","lineBreak":" ","lineHeight":22},"encoding":{"x":{"datum":-0.022,"type":"quantitative","axis":null},"y":{"datum":0.613,"type":"quantitative","axis":null},"text":{"field":"label"}}},
{"data":{"name":"phases"},"transform":[{"filter":"datum.panel=='B' && datum.phase=='Solventogenic'"}],"mark":{"type":"rect","color":"#6b6b6b"},"encoding":{"x":{"datum":1.686,"type":"quantitative","axis":null},"x2":{"datum":3.538},"y":{"datum":0.66,"type":"quantitative","axis":null},"y2":{"datum":0.884}}},
{"data":{"name":"phases"},"transform":[{"filter":"datum.panel=='B' && datum.phase=='Solventogenic'"}],"mark":{"type":"text","color":"#f2f200","fontSize":16.5,"fontWeight":"bold","align":"center","baseline":"middle"},"encoding":{"x":{"datum":2.607,"type":"quantitative","axis":null},"y":{"datum":0.775,"type":"quantitative","axis":null},"text":{"field":"label"}}}
]},

{"width":495,"height":60,"view":{"stroke":null},"data":{"name":"caption"},"layer":[
{"mark":{"type":"rect","filled":false,"color":"#7a7a7a","strokeWidth":1},"encoding":{"x":{"datum":-1.535,"type":"quantitative","scale":{"domain":[0,5],"nice":false},"axis":null},"x2":{"datum":12.07},"y":{"datum":-14.617,"type":"quantitative","scale":{"domain":[0,1],"nice":false,"reverse":true},"axis":null},"y2":{"datum":1.067}}},
{"mark":{"type":"text","fontSize":18,"fontWeight":"bold","align":"left","baseline":"alphabetic","color":"#222222"},"encoding":{"x":{"datum":-1.354,"type":"quantitative","axis":null},"y":{"datum":0.933,"type":"quantitative","axis":null},"text":{"field":"bold"}}},
{"mark":{"type":"text","fontSize":18,"align":"left","baseline":"alphabetic","color":"#222222"},"encoding":{"x":{"datum":0.155,"type":"quantitative","axis":null},"y":{"datum":0.933,"type":"quantitative","axis":null},"text":{"field":"rest"}}}
]}
],
"config": {
"font": "Liberation Sans",
"view": {"stroke": "#4d4d4d", "strokeWidth": 1.5},
"axis": {"labelFont": "Liberation Sans", "labelFontSize": 18, "labelColor": "#1a1a1a", "titleFont": "Liberation Sans", "titleFontSize": 26, "titleFontWeight": "normal", "titleColor": "#1a1a1a", "tickColor": "#555555", "tickSize": 5, "tickWidth": 1.2, "domain": false, "grid": false, "labelPadding": 3, "titlePadding": 5},
"legend": {"fillColor": "white", "strokeColor": "#666666", "padding": 2, "symbolType": "M-1,-0.035H-0.45V0.035H-1Z M-0.18,-0.18H0.18V0.18H-0.18Z M0.45,-0.035H1V0.035H0.45Z", "symbolSize": 2025, "symbolStrokeWidth": 0, "labelFont": "Liberation Sans", "labelFontSize": 18, "labelColor": "#1a1a1a", "labelOffset": 12},
"text": {"font": "Liberation Sans"}
}
}
